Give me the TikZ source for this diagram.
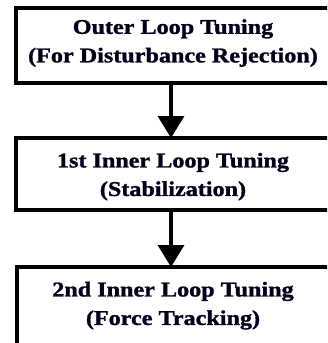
\documentclass[tikz,border=0pt]{standalone}
\usepackage{fontspec}
\setmainfont{Liberation Serif}[BoldFont={Liberation Serif Bold}, BoldFeatures={FakeBold=1.2}]
\usetikzlibrary{arrows.meta}
\tikzset{
  box/.style={draw=black, line width=3.5pt, fill=white},
  lbl/.style={inner sep=0pt, font=\bfseries, text=black!90!blue},
  arr/.style={line width=3.5pt, -{Triangle[width=26pt,length=22pt]}},
}
\newcommand{\boxtext}[2]{\scalebox{1.15}[1]{\fontsize{21}{28.5}\selectfont\begin{tabular}{@{}c@{}}#1\\#2\end{tabular}}}
\begin{document}
\begin{tikzpicture}[x=1pt,y=-1pt]
\useasboundingbox (0,0) rectangle (327,343);
\clip (0,0) rectangle (327,343);
\draw[box] (16,8) rectangle (332,83);
\draw[box] (16,138) rectangle (332,210);
\draw[box] (17,267) rectangle (332,360);
\coordinate (b1s) at (171,83);
\coordinate (b2n) at (171,138);
\coordinate (b2s) at (171,210);
\coordinate (b3n) at (171,267);
\node[lbl] (t1) at (173,42.4) {\boxtext{Outer Loop Tuning}{(For Disturbance Rejection)}};
\node[lbl] (t2) at (173,176) {\boxtext{1st Inner Loop Tuning}{(Stabilization)}};
\node[lbl] (t3) at (173,305) {\boxtext{2nd Inner Loop Tuning}{(Force Tracking)}};
\draw[arr] (b1s) -- (b2n);
\draw[arr] (b2s) -- (b3n);
\end{tikzpicture}
\end{document}
